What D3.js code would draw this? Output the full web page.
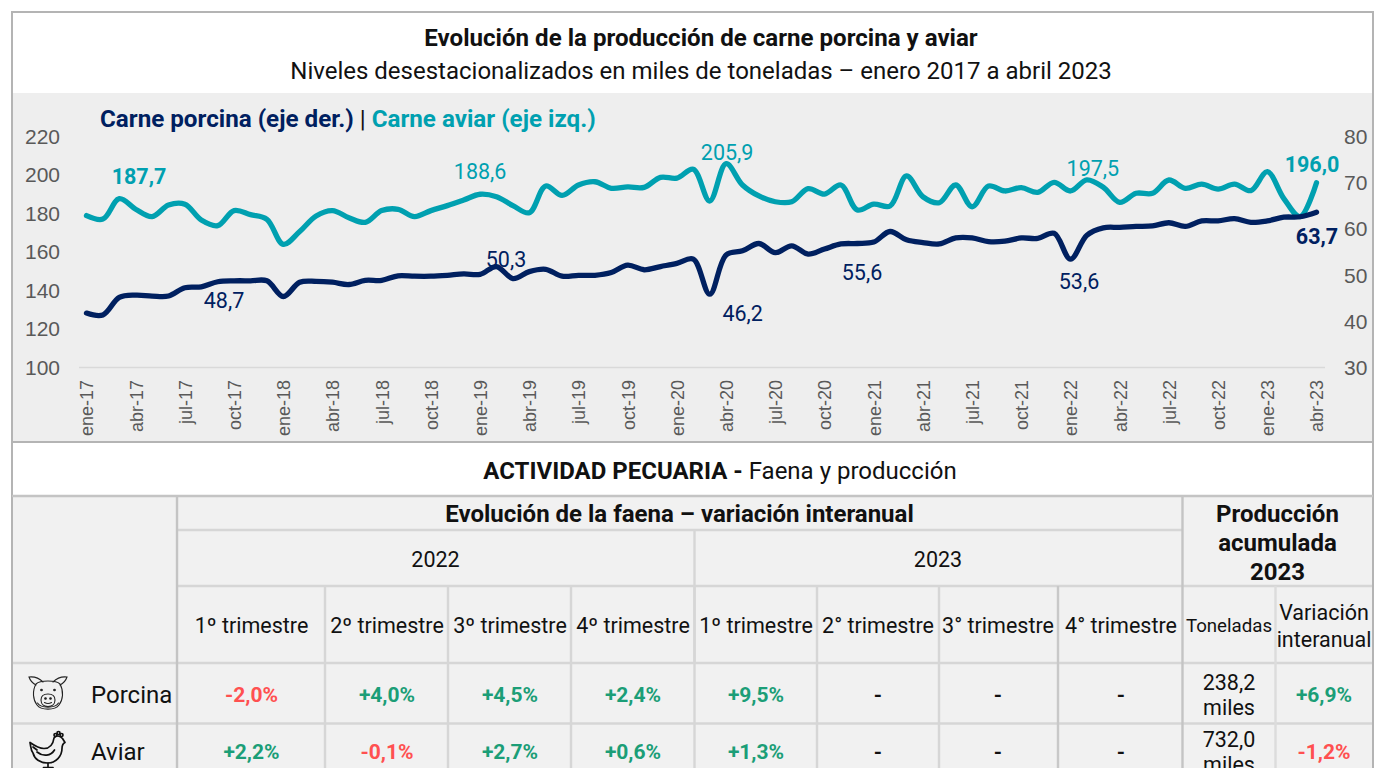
<!DOCTYPE html>
<html lang="es">
<head>
<meta charset="utf-8">
<script src="https://cdn.jsdelivr.net/npm/d3@7/dist/d3.min.js"></script>
<style>
html,body{margin:0;padding:0;background:#fff;overflow:hidden;}
svg{display:block;}
text{font-family:Roboto,sans-serif;}
.axis text{font-family:"Liberation Sans",Arial,sans-serif;fill:#595959;}
</style>
</head>
<body>
<svg id="c" width="1378" height="768"></svg>
<script>
const months = ["ene-17","feb-17","mar-17","abr-17","may-17","jun-17","jul-17","ago-17","sep-17","oct-17","nov-17","dic-17",
"ene-18","feb-18","mar-18","abr-18","may-18","jun-18","jul-18","ago-18","sep-18","oct-18","nov-18","dic-18",
"ene-19","feb-19","mar-19","abr-19","may-19","jun-19","jul-19","ago-19","sep-19","oct-19","nov-19","dic-19",
"ene-20","feb-20","mar-20","abr-20","may-20","jun-20","jul-20","ago-20","sep-20","oct-20","nov-20","dic-20",
"ene-21","feb-21","mar-21","abr-21","may-21","jun-21","jul-21","ago-21","sep-21","oct-21","nov-21","dic-21",
"ene-22","feb-22","mar-22","abr-22","may-22","jun-22","jul-22","ago-22","sep-22","oct-22","nov-22","dic-22",
"ene-23","feb-23","mar-23","abr-23"];
const aviar = [178.9,177.1,187.7,182.2,178.4,184.4,184.8,176.6,173.7,181.5,179.4,177.0,
164.0,170.6,178.7,181.5,177.8,175.4,181.5,182.2,178.4,181.5,184.1,187.0,
190.0,188.7,184.1,180.4,194.3,189.4,194.8,196.5,193.1,193.8,193.6,198.8,
198.4,203.0,186.5,205.9,194.8,189.1,186.1,186.1,192.9,190.1,194.8,181.8,
184.9,183.9,199.5,188.7,185.6,194.8,183.5,194.3,191.7,193.4,191.0,196.2,
191.7,197.5,193.6,185.8,190.5,190.5,197.4,193.1,195.3,192.7,195.3,191.9,
201.7,187.9,178.4,196.0];
const porcina = [41.8,41.4,45.2,45.7,45.5,45.5,47.3,47.5,48.6,48.8,48.8,48.8,
45.4,48.5,48.7,48.5,48.0,48.9,48.9,49.9,49.8,49.8,50.0,50.3,
50.2,51.9,49.3,50.8,51.3,49.8,50.0,50.0,50.6,52.2,51.2,51.9,
52.6,53.5,45.9,54.4,55.3,56.9,54.9,56.4,54.6,55.7,56.8,56.9,
57.2,59.5,57.7,57.1,56.8,58.1,58.1,57.3,57.4,58.1,58.0,59.1,
53.5,58.7,60.3,60.4,60.6,60.7,61.4,60.6,61.8,61.8,62.3,61.5,
61.8,62.6,62.7,63.7];
const leftTicks = [100,120,140,160,180,200,220];
const rightTicks = [30,40,50,60,70,80];
const aviarLabels = [[2,"187,7",true],[24,"188,6",false],[39,"205,9",false],[61,"197,5",false],[75,"196,0",true]];
const porcinaLabels = [[8,"48,7",false],[25,"50,3",false],[38,"46,2",false],[47,"55,6",false],[60,"53,6",false],[75,"63,7",true]];
const aviarOffsets = [[19.7,-14.7],[0,-15],[1,-3.6],[6,-4],[-4.5,-10.7]];
const porcinaOffsets = [[6.3,26],[9.5,0],[33,27],[4.7,37],[8.5,30.3],[0.5,31.5]];
const yearHeads = ["2022","2023"];
const quarters = ["1º trimestre","2º trimestre","3º trimestre","4º trimestre","1º trimestre","2° trimestre","3° trimestre","4° trimestre"];
const rowNames = ["Porcina","Aviar"];
const faenaPorcina = ["-2,0%","+4,0%","+4,5%","+2,4%","+9,5%","-","-","-"];
const faenaAviar = ["+2,2%","-0,1%","+2,7%","+0,6%","+1,3%","-","-","-"];
const toneladas = [["238,2","miles"],["732,0","miles"]];
const variacion = ["+6,9%","-1,2%"];

const NAVY="#002060", TEAL="#00A0B0", RED="#FF5050", GREEN="#1B9E77", GRID="#d6d6d6", FRAME="#b4b4b4";
const svg = d3.select("#c");

function txt(x,y,s,o={}){
  return svg.append("text").attr("x",x).attr("y",y).attr("text-anchor",o.a||"middle")
    .attr("font-size",o.s||21.5).attr("font-weight",o.b?700:400).attr("fill",o.c||"#111").text(s);
}
function ln(x1,y1,x2,y2,c,w){
  svg.append("line").attr("x1",x1).attr("y1",y1).attr("x2",x2).attr("y2",y2).attr("stroke",c).attr("stroke-width",w);
}

/* backgrounds */
svg.append("rect").attr("x",12).attr("y",93).attr("width",1361).attr("height",349).attr("fill","#eeeeee");
svg.append("rect").attr("x",12).attr("y",496).attr("width",1361).attr("height",272).attr("fill","#f1f1f1");

/* titles */
txt(701,45.5,"Evolución de la producción de carne porcina y aviar",{b:true,s:24.1});
txt(701,79,"Niveles desestacionalizados en miles de toneladas – enero 2017 a abril 2023",{s:24});

/* chart */
const x = d3.scalePoint().domain(months).range([86.5,1316.5]);
const yL = d3.scaleLinear().domain([100,220]).range([367.5,136.5]);
const yR = d3.scaleLinear().domain([30,80]).range([367.5,137]);

const axL = svg.append("g").attr("class","axis").attr("transform","translate(60,0)")
  .call(d3.axisLeft(yL).tickValues(leftTicks).tickSize(0).tickPadding(0));
axL.select(".domain").remove();
axL.selectAll("text").attr("font-size",21).attr("font-family",null);
const axR = svg.append("g").attr("class","axis").attr("transform","translate(1344,0)")
  .call(d3.axisRight(yR).tickValues(rightTicks).tickSize(0).tickPadding(0));
axR.select(".domain").remove();
axR.selectAll("text").attr("font-size",21).attr("font-family",null);
const axB = svg.append("g").attr("class","axis").attr("transform","translate(0,367.5)")
  .call(d3.axisBottom(x).tickValues(months.filter((d,i)=>i%3===0)).tickSize(0));
axB.select(".domain").remove();
axB.selectAll("text").attr("font-size",18).attr("font-family",null)
  .attr("text-anchor","end").attr("transform","rotate(-90)")
  .attr("x",-12.5).attr("y",0).attr("dy","0.36em");
ln(79,367.5,1325,367.5,"#d9d9d9",1.6);

const line = (sc)=>d3.line().x((d,i)=>x(months[i])).y(d=>sc(d)).curve(d3.curveCatmullRom.alpha(0.5));
[[aviar,yL,TEAL],[porcina,yR,NAVY]].forEach(([data,sc,col])=>{
  svg.append("path").datum(data).attr("d",line(sc)).attr("fill","none").attr("stroke",col)
    .attr("stroke-width",5.3).attr("stroke-linecap","round").attr("stroke-linejoin","round");
});

function labels(list,offs,data,sc,col){
  list.forEach(([i,s,b],k)=>{
    txt(x(months[i])+offs[k][0],sc(data[i])+offs[k][1],s,{s:21.5,b:b,c:col});
  });
}
labels(aviarLabels,aviarOffsets,aviar,yL,TEAL);
labels(porcinaLabels,porcinaOffsets,porcina,yR,NAVY);

/* legend */
const leg = svg.append("text").attr("x",100).attr("y",127).attr("font-size",24.2).attr("font-weight",700);
leg.append("tspan").attr("fill",NAVY).text("Carne porcina (eje der.)");
leg.append("tspan").attr("fill","#111").attr("font-weight",400).text(" | ");
leg.append("tspan").attr("fill",TEAL).text("Carne aviar (eje izq.)");

/* section title */
const sec = svg.append("text").attr("x",720).attr("y",479).attr("text-anchor","middle").attr("font-size",24).attr("fill","#111");
sec.append("tspan").attr("font-weight",700).text("ACTIVIDAD PECUARIA - ");
sec.append("tspan").text("Faena y producción");

/* table grid */
ln(177,530,1182,530,GRID,2.4);
ln(177,586,1373,586,GRID,2.4);
ln(12,663,1373,663,GRID,2.4);
ln(12,723.5,1373,723.5,GRID,2.4);
ln(177,496,177,768,"#c4c4c4",2.4);
ln(694.5,530,694.5,663,GRID,2.4);
ln(1182.5,496,1182.5,768,"#c4c4c4",2.4);
const colLines=[325,448,571,694.5,817,939,1058];
colLines.forEach(v=>ln(v,586,v,768,v===1058?"#c8c8c8":GRID,2.4));
ln(1275.5,586,1275.5,768,"#dcdcdc",2.4);

/* frame */
svg.append("rect").attr("x",12).attr("y",12).attr("width",1361).attr("height",800).attr("fill","none").attr("stroke",FRAME).attr("stroke-width",2);
ln(12,442,1373,442,FRAME,2.2);
ln(12,496,1373,496,"#c4c4c4",2.4);

/* table text */
txt(679.5,521.5,"Evolución de la faena – variación interanual",{b:true,s:24});
txt(435.5,567,yearHeads[0]);
txt(938,567,yearHeads[1]);
["Producción","acumulada","2023"].forEach((s,i)=>txt(1277.5,522+i*29,s,{b:true,s:24}));
const colC=[251.5,387,510,633,756,878,998,1121];
quarters.forEach((q,i)=>txt(colC[i],633,q,{s:21.5}));
txt(1229,632,"Toneladas",{s:18.7});
txt(1324,620,"Variación",{s:21.5});
txt(1324,647,"interanual",{s:21.5});

const rowY=[703,760];
rowNames.forEach((n,i)=>txt(91,rowY[i],n,{a:"start",s:24}));
const cl=s=>s==="-"?"#111":(s[0]==="+"?GREEN:RED);
[faenaPorcina,faenaAviar].forEach((row,r)=>{
  row.forEach((s,i)=>txt(colC[i],r===0?702:759,s,{b:true,s:21,c:cl(s)}));
});
toneladas.forEach((pair,r)=>{
  pair.forEach((s,k)=>txt(1229,(r===0?690:747)+k*25,s,{s:21.5}));
});
variacion.forEach((s,r)=>txt(1324,r===0?702:759,s,{b:true,s:21,c:cl(s)}));

/* icons */
const pig = svg.append("g").attr("fill","none").attr("stroke","#222").attr("stroke-width",1.1).attr("stroke-linecap","round");
[
"M36 684C32 691 33 700 37 705C41 710.5 55 710.5 59 705C63 700 64 691 60 684C56 680 40 680 36 684Z",
"M36 685C32 683 30 680 29 677C33 676.5 39 678 43 682",
"M60 685C64 683 66 680 67 677C63 676.5 57 678 53 682",
"M37.5 703C41 708.5 55 708.5 58.5 703",
"M41 700C41 696 44 694 48 694C52 694 55 696 55 700C55 704 52 706.5 48 706.5C44 706.5 41 704 41 700Z",
"M44.5 702.5C47 704 49 704 51.5 702.5"
].forEach(d=>pig.append("path").attr("d",d));
[[45.5,698.5],[50.5,698.5],[41.5,690],[54.5,690]].forEach(p=>pig.append("circle").attr("cx",p[0]).attr("cy",p[1]).attr("r",.8).attr("fill","#222"));

const hen = svg.append("g").attr("fill","none").attr("stroke","#111").attr("stroke-width",1.7).attr("stroke-linecap","round").attr("stroke-linejoin","round");
[
"M54 738C53 745 49 748.5 44 748.5C40 748.5 35 746 30 742.5C31 747 30.5 750 33 753C34.5 759 40 763 47.5 763C56 763 62 756 62 748.5C62 745.5 63 743.5 65 742.5L62.5 738.5C60 735.5 56 735 54 738Z",
"M37 752C43 757 51 756 54.5 750",
"M33 747L37 750",
"M48 763V767M43.5 767.5H53"
].forEach(d=>hen.append("path").attr("d",d));
[[55.5,735],[58.5,733],[61.5,735]].forEach(p=>hen.append("circle").attr("cx",p[0]).attr("cy",p[1]).attr("r",1.5));
</script>
</body>
</html>
